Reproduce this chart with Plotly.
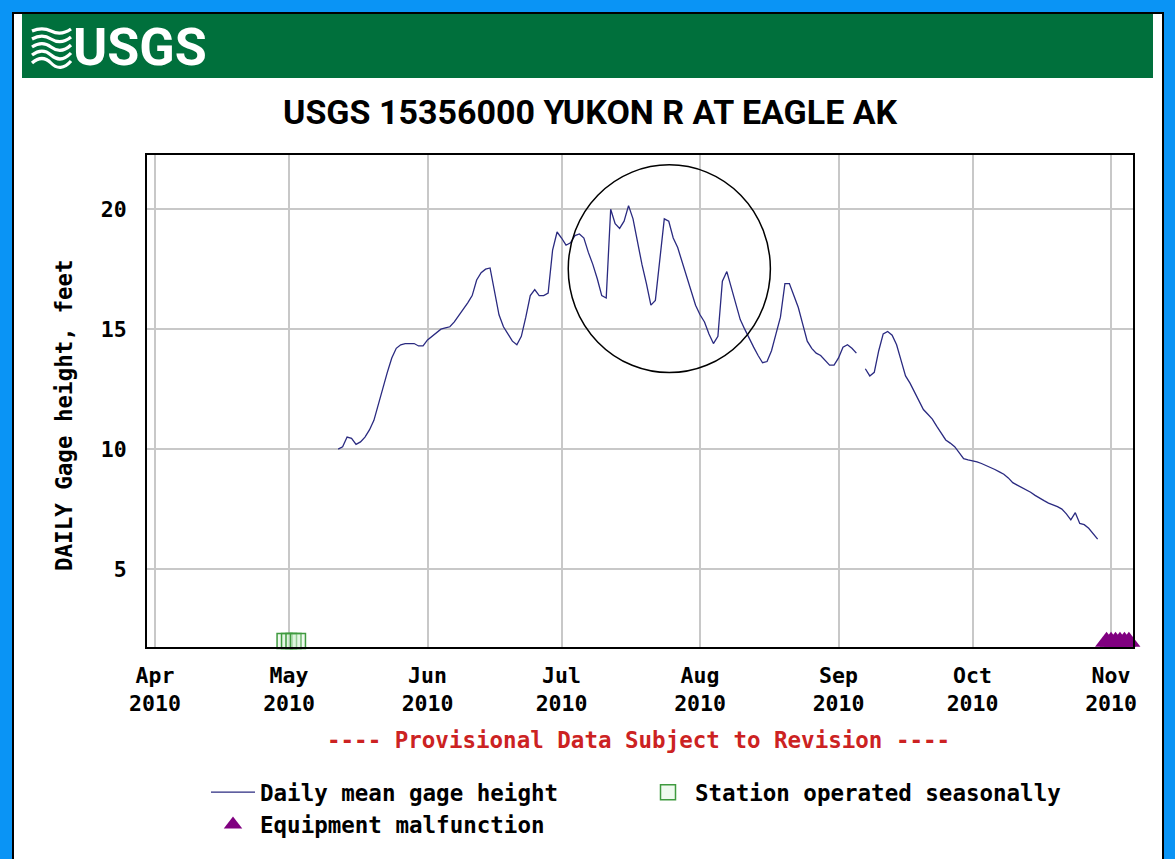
import plotly.graph_objects as go
import pandas as pd

# ---------------- data ----------------
gage_start = "2010-05-12"
gage_height = [
    10.0, 10.1, 10.5, 10.45, 10.2, 10.3, 10.5, 10.8, 11.2, 11.9,      # May 12-21
    12.6, 13.2, 13.8, 14.2, 14.35, 14.4, 14.4, 14.4, 14.3, 14.3,      # May 22-31
    14.55, 14.7, 14.85, 15.0, 15.05, 15.1, 15.3, 15.55, 15.8, 16.1,   # Jun 1-10
    16.4, 17.05, 17.35, 17.5, 17.55, 16.5, 15.6, 15.1, 14.8, 14.5,    # Jun 11-20
    14.35, 14.7, 15.5, 16.4, 16.65, 16.4, 16.4, 16.5, 18.3, 19.05,    # Jun 21-30
    18.8, 18.5, 18.6, 18.9, 18.97, 18.8, 18.2, 17.7, 17.1, 16.4,      # Jul 1-10
    16.3, 20.0, 19.4, 19.2, 19.5, 20.15, 19.6, 18.6, 17.7, 16.9,      # Jul 11-20
    16.0, 16.2, 17.9, 19.6, 19.5, 18.8, 18.4, 17.8, 17.2, 16.5,       # Jul 21-30
    16.0, 15.6, 15.3, 14.8, 14.4, 14.7, 17.0, 17.4, 16.7, 16.0,       # Jul 31-Aug 9
    15.4, 15.0, 14.6, 14.25, 13.9, 13.6, 13.65, 14.1, 14.8, 15.5,     # Aug 10-19
    16.9, 16.9, 16.4, 15.9, 15.2, 14.5, 14.2, 14.0, 13.9, 13.7,       # Aug 20-29
    13.5, 13.5, 13.8, 14.25, 14.35, 14.2, 14.0, None, 13.35, 13.05,   # Aug 30-Sep 8
    13.2, 14.1, 14.8, 14.9, 14.75, 14.35, 13.7, 13.05, 12.75, 12.4,   # Sep 9-18
    12.0, 11.65, 11.45, 11.25, 10.95, 10.65, 10.38, 10.25, 10.1, 9.85, # Sep 19-28
    9.6, 9.55, 9.52, 9.47, 9.4, 9.32, 9.25, 9.15, 9.05, 8.95,         # Sep 29-Oct 8
    8.8, 8.6, 8.5, 8.4, 8.32, 8.2, 8.07, 7.95, 7.85, 7.75,            # Oct 9-18
    7.68, 7.6, 7.5, 7.3, 7.05, 7.35, 6.9, 6.85, 6.7, 6.45,            # Oct 19-28
    6.25,                                                             # Oct 29
]

seasonal_dates = ["2010-04-30", "2010-05-01", "2010-05-02", "2010-05-03"]
seasonal_values = [2.0, 2.0, 2.0, 2.0]

malfunction_dates = ["2010-10-31", "2010-11-01", "2010-11-02", "2010-11-03",
                     "2010-11-04", "2010-11-05"]
malfunction_values = [1.97, 1.97, 1.97, 1.97, 1.97, 1.97]

month_starts = ["2010-04-01", "2010-05-01", "2010-06-01", "2010-07-01",
                "2010-08-01", "2010-09-01", "2010-10-01", "2010-11-01"]
month_labels = ["Apr<br>2010", "May<br>2010", "Jun<br>2010", "Jul<br>2010",
                "Aug<br>2010", "Sep<br>2010", "Oct<br>2010", "Nov<br>2010"]

y_ticks = [5, 10, 15, 20]
y_labels = ["5", "10", "15", "20"]

gage_dates = pd.date_range(gage_start, periods=len(gage_height), freq="D")

# ---------------- layout geometry helpers ----------------
W, H = 1175, 859
L, R, T, B = 147, 42, 155, 212
PW = W - L - R
PH = H - T - B


def px(x):
    return (x - L) / PW


def py(y):
    return (H - B - y) / PH


MONO = "DejaVu Sans Mono"
NARROW = "Liberation Sans Narrow, Arial Narrow, Roboto, Liberation Sans, sans-serif"
TXT = 22.5

fig = go.Figure()

fig.add_trace(go.Scatter(
    x=gage_dates, y=gage_height, mode="lines",
    name="Daily mean gage height",
    line=dict(color="#2a2a80", width=1.3),
    connectgaps=False,
))
fig.add_trace(go.Scatter(
    x=seasonal_dates, y=seasonal_values, mode="markers",
    name="Station operated seasonally",
    marker=dict(symbol="square", size=15, color="rgba(210,240,210,0.35)",
                line=dict(color="#3f9a3f", width=1.5)),
    cliponaxis=False,
))
fig.add_trace(go.Scatter(
    x=malfunction_dates, y=malfunction_values, mode="markers",
    name="Equipment malfunction",
    marker=dict(symbol="triangle-up", size=20, color="#800080",
                line=dict(width=0)),
    cliponaxis=False,
))

shapes = [
    # white panel with black border
    dict(type="rect", xref="paper", yref="paper", layer="below",
         x0=px(13), x1=px(1163), y0=py(900), y1=py(13),
         fillcolor="white", line=dict(color="black", width=2)),
    # green header band
    dict(type="rect", xref="paper", yref="paper", layer="below",
         x0=px(22), x1=px(1153), y0=py(78), y1=py(14),
         fillcolor="#00703c", line=dict(width=0)),
    # highlight circle
    dict(type="circle", xref="x", yref="y",
         x0="2010-07-02 12:00", x1="2010-08-16 18:00", y0=13.19, y1=21.85,
         line=dict(color="black", width=1.5)),
]

# wave icon of the logo
for i in range(5):
    y0 = 31 + i * 8
    amp = 3 + i * 0.8
    path = "M {:.5f},{:.5f} C {:.5f},{:.5f} {:.5f},{:.5f} {:.5f},{:.5f} S {:.5f},{:.5f} {:.5f},{:.5f}".format(
        px(32), py(y0),
        px(39), py(y0 - amp), px(45), py(y0 - amp), px(51), py(y0),
        px(64), py(y0 + amp), px(71), py(y0 - 2),
    )
    shapes.append(dict(type="path", xref="paper", yref="paper", path=path,
                       line=dict(color="white", width=3.2)))

annotations = [
    dict(text="USGS", x=px(71), y=py(47), xref="paper", yref="paper",
         xanchor="left", yanchor="middle", showarrow=False,
         font=dict(family=NARROW, size=52, color="white", weight="bold")),
    dict(text="USGS 15356000 YUKON R AT EAGLE AK", x=px(590), y=py(112),
         xref="paper", yref="paper", xanchor="center", yanchor="middle",
         showarrow=False,
         font=dict(family=NARROW, size=34, color="black", weight="bold")),
    dict(text="DAILY Gage height, feet", x=px(64), y=py(415),
         xref="paper", yref="paper", xanchor="center", yanchor="middle",
         textangle=-90, showarrow=False,
         font=dict(family=MONO, size=TXT, color="black", weight="bold")),
    dict(text="---- Provisional Data Subject to Revision ----",
         x=px(638), y=py(740), xref="paper", yref="paper",
         xanchor="center", yanchor="middle", showarrow=False,
         font=dict(family=MONO, size=TXT, color="#cc2222", weight="bold")),
]

fig.update_layout(
    width=W, height=H,
    margin=dict(l=L, r=R, t=T, b=B, autoexpand=False),
    paper_bgcolor="#0a94f5",
    plot_bgcolor="white",
    shapes=shapes,
    annotations=annotations,
    showlegend=True,
    legend=dict(
        orientation="h", x=px(206), y=py(771), xref="paper", yref="paper",
        xanchor="left", yanchor="top",
        font=dict(family=MONO, size=TXT, color="black", weight="bold"),
        itemwidth=44, entrywidth=376, entrywidthmode="pixels",
        bgcolor="rgba(0,0,0,0)", traceorder="normal",
    ),
    xaxis=dict(
        type="date", range=["2010-03-30 05:00", "2010-11-05 22:00"],
        tickmode="array", tickvals=month_starts, ticktext=month_labels,
        showgrid=True, gridcolor="#c8c8c8", gridwidth=1.5,
        showline=True, linecolor="black", linewidth=2, mirror=True,
        ticks="", zeroline=False, ticklabelstandoff=8,
        tickfont=dict(family=MONO, size=21.5, color="black", weight="bold"),
    ),
    yaxis=dict(
        range=[1.75, 22.26],
        tickmode="array", tickvals=y_ticks, ticktext=y_labels,
        showgrid=True, gridcolor="#c8c8c8", gridwidth=1.5,
        showline=True, linecolor="black", linewidth=2, mirror=True,
        ticks="", zeroline=False, ticklabelstandoff=14,
        tickfont=dict(family=MONO, size=21.5, color="black", weight="bold"),
    ),
)

fig.write_html("out.html")
